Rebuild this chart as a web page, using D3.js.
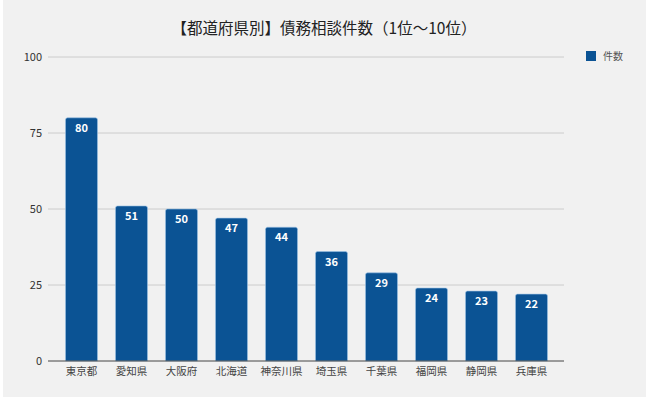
<!DOCTYPE html>
<html><head><meta charset="utf-8">
<script src="https://cdn.jsdelivr.net/npm/d3@7"></script>
<style>html,body{margin:0;padding:0;background:#fff;}svg{display:block;}</style>
</head><body>
<script>
const categories = ["東京都","愛知県","大阪府","北海道","神奈川県","埼玉県","千葉県","福岡県","静岡県","兵庫県"];
const values = [80,51,50,47,44,36,29,24,23,22];
const yTicks = [0,25,50,75,100];
const title = "【都道府県別】債務相談件数（1位〜10位）";
const seriesName = "件数";

const W = 650, H = 402;
const font = "'Noto Sans CJK JP','Noto Sans',sans-serif";
const svg = d3.select("body").append("svg").attr("width", W).attr("height", H);
svg.append("rect").attr("x", 3).attr("y", 0).attr("width", 643).attr("height", 397).attr("fill", "#f1f1f1");

const x = d3.scaleBand().domain(categories).range([56.5, 556.5]).paddingInner(0.36).paddingOuter(0.18);
const y = d3.scaleLinear().domain([0, 100]).range([361, 57]);

// gridlines
svg.append("g").selectAll("line").data(yTicks.filter(d => d > 0)).join("line")
  .attr("x1", 48).attr("x2", 564).attr("y1", d => y(d)).attr("y2", d => y(d))
  .attr("stroke", "#cccccc").attr("stroke-width", 1);

// y axis labels
const ya = svg.append("g").attr("transform", "translate(48,0)")
  .call(d3.axisLeft(y).tickValues(yTicks).tickSize(0).tickPadding(6));
ya.select(".domain").remove();
ya.selectAll("text").attr("font-family", font).attr("font-size", 11).attr("fill", "#333");

// bars
const bw = x.bandwidth(), r = 2;
svg.append("g").selectAll("path").data(values).join("path")
  .attr("d", (d, i) => {
    const x0 = x(categories[i]), x1 = x0 + bw, y0 = y(0), y1 = y(d);
    return `M${x0},${y0}V${y1 + r}Q${x0},${y1} ${x0 + r},${y1}H${x1 - r}Q${x1},${y1} ${x1},${y1 + r}V${y0}Z`;
  })
  .attr("fill", "#0b5394").attr("stroke", "#9cc3e6").attr("stroke-width", 0.6);

// value labels
svg.append("g").selectAll("text").data(values).join("text")
  .attr("x", (d, i) => x(categories[i]) + bw / 2).attr("y", d => y(d) + 14)
  .attr("text-anchor", "middle").attr("font-family", font).attr("font-size", 11)
  .attr("font-weight", "bold").attr("fill", "#fff").text(d => d);

// baseline
svg.append("line").attr("x1", 48).attr("x2", 564).attr("y1", y(0)).attr("y2", y(0))
  .attr("stroke", "#444").attr("stroke-width", 1);

// x axis labels
const xa = svg.append("g").attr("transform", `translate(0,${y(0)})`)
  .call(d3.axisBottom(x).tickSize(0).tickPadding(7));
xa.select(".domain").remove();
xa.selectAll("text").attr("font-family", font).attr("font-size", 10.5).attr("fill", "#444");

// title
svg.append("text").attr("x", 324).attr("y", 34).attr("text-anchor", "middle")
  .attr("font-family", font).attr("font-size", 15.5).attr("fill", "#222").text(title);

// legend
svg.append("rect").attr("x", 586).attr("y", 51).attr("width", 10).attr("height", 10).attr("fill", "#0b5394");
svg.append("text").attr("x", 603).attr("y", 60).attr("font-family", font).attr("font-size", 10)
  .attr("fill", "#555").text(seriesName);
</script>
</body></html>
